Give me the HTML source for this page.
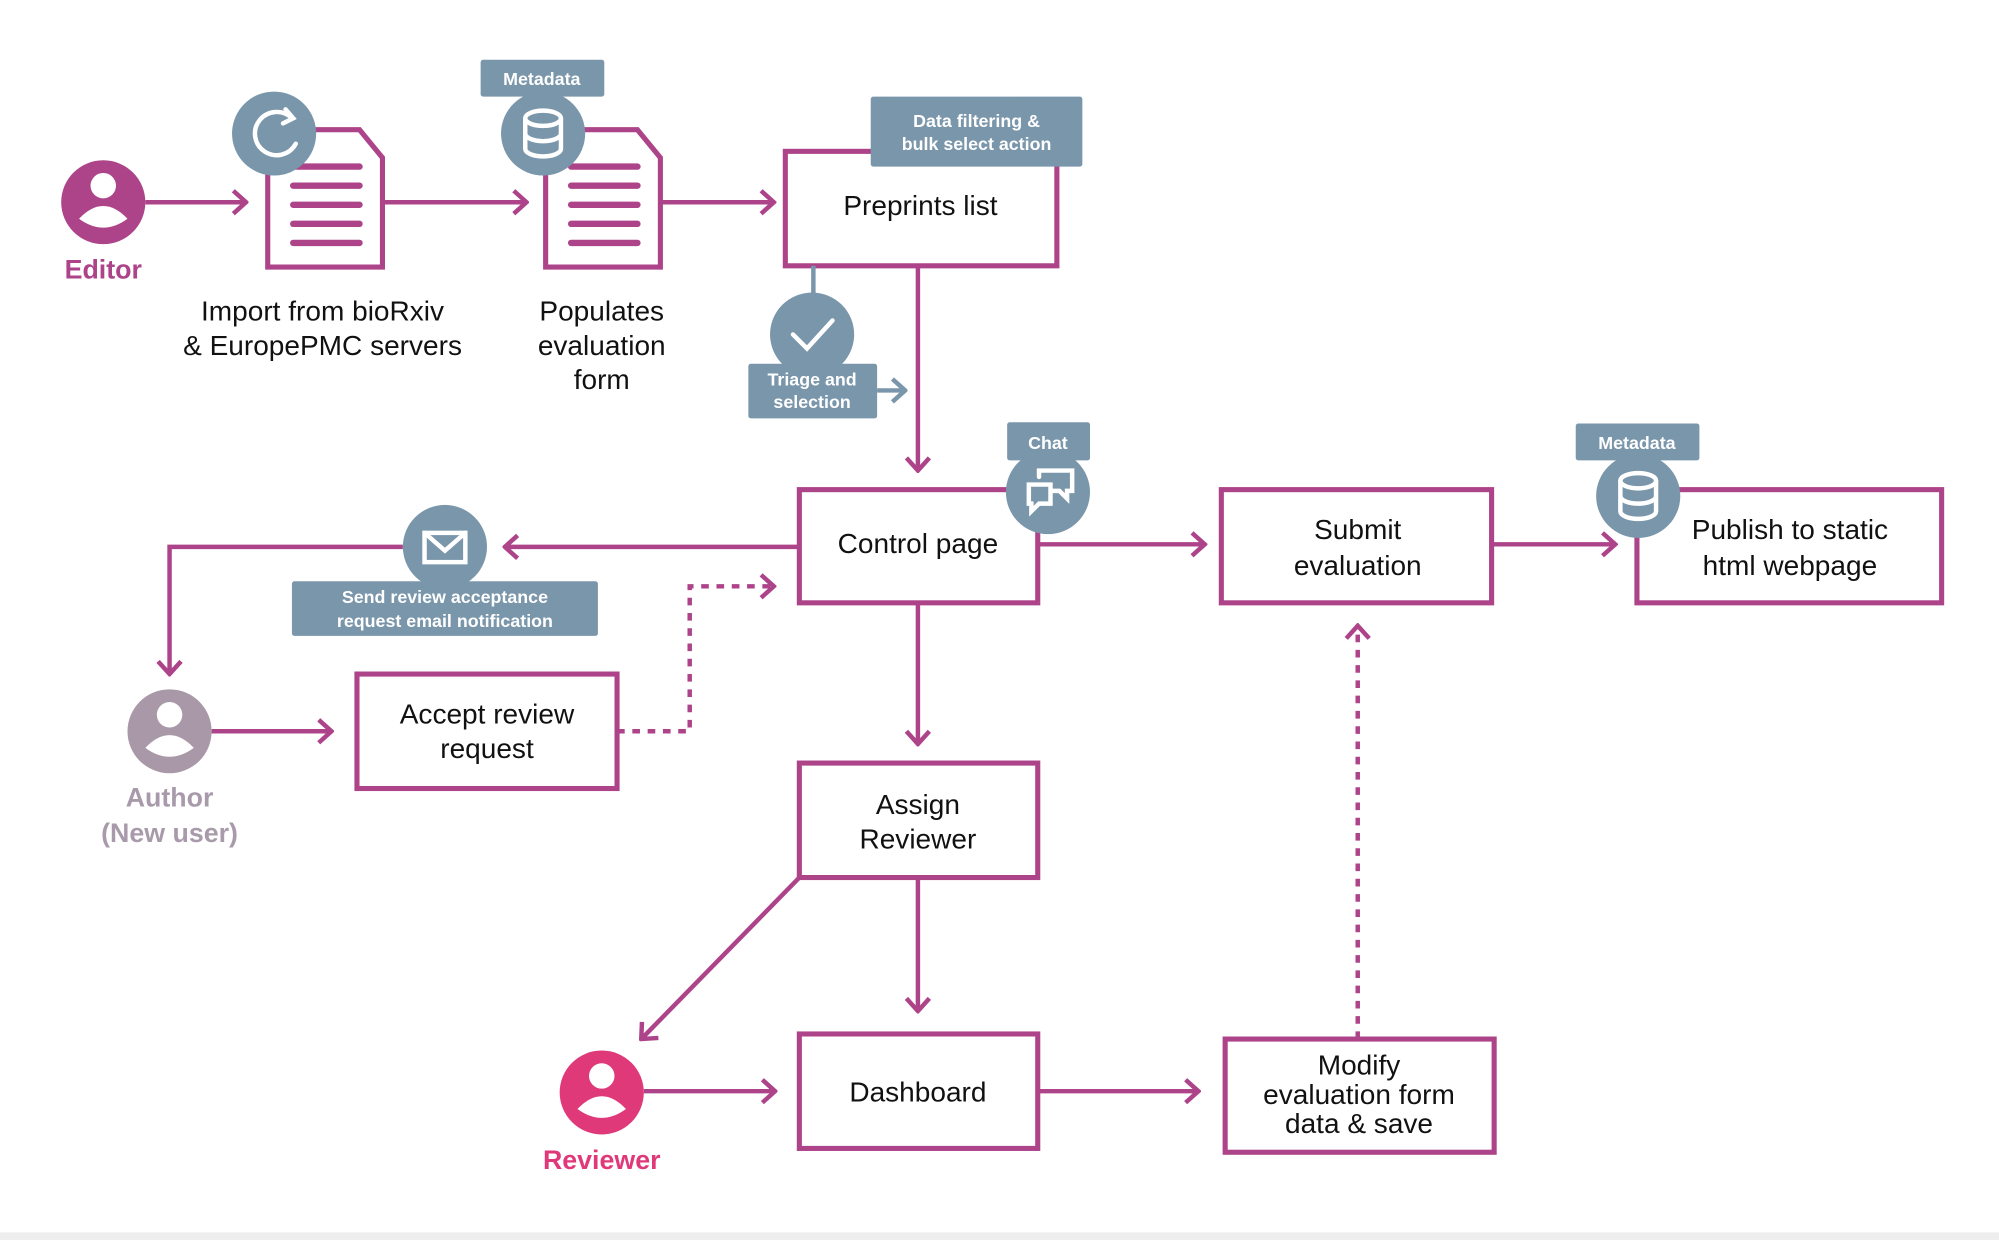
<!DOCTYPE html>
<html><head><meta charset="utf-8"><style>
html,body{margin:0;padding:0;background:#fff;}
svg{display:block;}
text{font-family:"Liberation Sans",sans-serif;}
</style></head><body>
<svg width="1999" height="1240" viewBox="0 0 1568 975" preserveAspectRatio="none" xmlns="http://www.w3.org/2000/svg">
<defs>
<marker id="ah" markerWidth="14" markerHeight="22" refX="12" refY="11" orient="auto" markerUnits="userSpaceOnUse">
<path d="M2,2 L12,11 L2,20" fill="none" stroke="#ad4389" stroke-width="3.5"/>
</marker>
<marker id="ag" markerWidth="14" markerHeight="22" refX="12" refY="11" orient="auto" markerUnits="userSpaceOnUse">
<path d="M2,2 L12,11 L2,20" fill="none" stroke="#7a96ab" stroke-width="3.5"/>
</marker>
</defs>
<rect x="0" y="969" width="1568" height="6" fill="#eeeeee"/>
<g fill="none" stroke="#ad4389" stroke-width="4">
<rect x="616" y="119" width="213" height="90"/>
<rect x="627" y="385" width="187" height="89"/>
<rect x="958" y="385" width="212" height="89"/>
<rect x="1284" y="385" width="239" height="89"/>
<rect x="280" y="530" width="204" height="90"/>
<rect x="627" y="600" width="187" height="90"/>
<rect x="627" y="813" width="187" height="90"/>
<rect x="961" y="817" width="211" height="89"/>
<path d="M210,102 H282 L300,124 V210 H210 Z"/>
<path d="M428,102 H500 L518,124 V210 H428 Z"/>
</g>
<g stroke="#ad4389" stroke-width="5" stroke-linecap="round">
<line x1="230" y1="131" x2="282" y2="131"/><line x1="230" y1="146" x2="282" y2="146"/><line x1="230" y1="161" x2="282" y2="161"/><line x1="230" y1="176" x2="282" y2="176"/><line x1="230" y1="191" x2="282" y2="191"/>
<line x1="448" y1="131" x2="500" y2="131"/><line x1="448" y1="146" x2="500" y2="146"/><line x1="448" y1="161" x2="500" y2="161"/><line x1="448" y1="176" x2="500" y2="176"/><line x1="448" y1="191" x2="500" y2="191"/>
</g>
<g fill="none" stroke="#ad4389" stroke-width="3.5">
<line x1="114" y1="159" x2="193" y2="159" marker-end="url(#ah)"/>
<line x1="300" y1="159" x2="413" y2="159" marker-end="url(#ah)"/>
<line x1="518" y1="159" x2="607" y2="159" marker-end="url(#ah)"/>
<line x1="720" y1="209" x2="720" y2="370" marker-end="url(#ah)"/>
<line x1="814" y1="428" x2="945" y2="428" marker-end="url(#ah)"/>
<line x1="1170" y1="428" x2="1267" y2="428" marker-end="url(#ah)"/>
<line x1="627" y1="430" x2="396" y2="430" marker-end="url(#ah)"/>
<polyline points="316,430 133,430 133,530" marker-end="url(#ah)"/>
<line x1="166" y1="575" x2="260" y2="575" marker-end="url(#ah)"/>
<polyline points="484,575 541,575 541,461 607,461" stroke-dasharray="6,6" marker-end="url(#ah)"/>
<line x1="720" y1="474" x2="720" y2="585" marker-end="url(#ah)"/>
<line x1="720" y1="690" x2="720" y2="795" marker-end="url(#ah)"/>
<line x1="627" y1="690" x2="503" y2="817" marker-end="url(#ah)"/>
<line x1="505" y1="858" x2="608" y2="858" marker-end="url(#ah)"/>
<line x1="814" y1="858" x2="940" y2="858" marker-end="url(#ah)"/>
<line x1="1065" y1="817" x2="1065" y2="492" stroke-dasharray="6,6" marker-end="url(#ah)"/>
</g>
<g fill="none" stroke="#7a96ab" stroke-width="3.5">
<line x1="638" y1="209" x2="638" y2="235"/>
<line x1="688" y1="307" x2="710" y2="307" marker-end="url(#ag)"/>
</g>
<g>
<circle cx="81" cy="159" r="33" fill="#ad4389"/>
<circle cx="81" cy="146" r="10" fill="#fff"/><path d="M62,172 Q81,152 100,172 Q81,186 62,172Z" fill="#fff"/>
<circle cx="133" cy="575" r="33" fill="#a898a8"/>
<circle cx="133" cy="562" r="10" fill="#fff"/><path d="M114,588 Q133,568 152,588 Q133,602 114,588Z" fill="#fff"/>
<circle cx="472" cy="859" r="33" fill="#e0397a"/>
<circle cx="472" cy="846" r="10" fill="#fff"/><path d="M453,872 Q472,852 491,872 Q472,886 453,872Z" fill="#fff"/>
</g>
<g fill="#7a96ab">
<circle cx="215" cy="105" r="33"/>
<circle cx="426" cy="105" r="33"/>
<circle cx="637" cy="263" r="33"/>
<circle cx="822" cy="387" r="33"/>
<circle cx="349" cy="430" r="33"/>
<circle cx="1285" cy="390" r="33"/>
<rect x="377" y="47" width="97" height="29" rx="2"/>
<rect x="683" y="76" width="166" height="55" rx="2"/>
<rect x="587" y="286" width="101" height="43" rx="2"/>
<rect x="790" y="332" width="65" height="30" rx="2"/>
<rect x="1236" y="333" width="97" height="29" rx="2"/>
<rect x="229" y="457" width="240" height="43" rx="2"/>
</g>
<g fill="none" stroke="#fff" stroke-width="3.5" stroke-linecap="round">
<path d="M229,93 A17,17 0 1 0 232,113"/><path d="M224,86 L230,93 L222,97"/>
<ellipse cx="426" cy="93" rx="14" ry="6"/><path d="M412,93 V117 A14,6 0 0 0 440,117 V93 M412,105 A14,6 0 0 0 440,105"/>
<ellipse cx="1285" cy="378" rx="14" ry="6"/><path d="M1271,378 V402 A14,6 0 0 0 1299,402 V378 M1271,390 A14,6 0 0 0 1299,390"/>
<path d="M622,263 L633,274 L653,252"/>
<rect x="333" y="419" width="32" height="23"/><path d="M333,419 L349,433 L365,419"/>
<path d="M807,381 H824 V396 H815 L809,402 V396 H807Z"/><path d="M815,375 V370 H841 V386 H837 V392 L831,386 H825"/>
</g>
<g fill="#fff" font-weight="bold" font-size="14" text-anchor="middle">
<text x="425" y="67">Metadata</text>
<text x="766" y="100">Data filtering &amp;</text>
<text x="766" y="118">bulk select action</text>
<text x="637" y="303">Triage and</text>
<text x="637" y="321">selection</text>
<text x="822" y="353">Chat</text>
<text x="1284" y="353">Metadata</text>
<text x="349" y="474">Send review acceptance</text>
<text x="349" y="493">request email notification</text>
</g>
<g fill="#111" font-size="22" text-anchor="middle">
<text x="722" y="169">Preprints list</text>
<text x="720" y="435">Control page</text>
<text x="1065" y="424">Submit</text>
<text x="1065" y="452">evaluation</text>
<text x="1404" y="424">Publish to static</text>
<text x="1404" y="452">html webpage</text>
<text x="382" y="569">Accept review</text>
<text x="382" y="596">request</text>
<text x="720" y="640">Assign</text>
<text x="720" y="667">Reviewer</text>
<text x="720" y="866">Dashboard</text>
<text x="1066" y="845">Modify</text>
<text x="1066" y="868">evaluation form</text>
<text x="1066" y="891">data &amp; save</text>
<text x="253" y="252">Import from bioRxiv</text>
<text x="253" y="279">&amp; EuropePMC servers</text>
<text x="472" y="252">Populates</text>
<text x="472" y="279">evaluation</text>
<text x="472" y="306">form</text>
</g>
<g font-weight="bold" font-size="21" text-anchor="middle">
<text x="81" y="219" fill="#ad4389">Editor</text>
<text x="133" y="634" fill="#a89aab">Author</text>
<text x="133" y="662" fill="#a89aab">(New user)</text>
<text x="472" y="919" fill="#e0397a">Reviewer</text>
</g>
</svg>
</body></html>
